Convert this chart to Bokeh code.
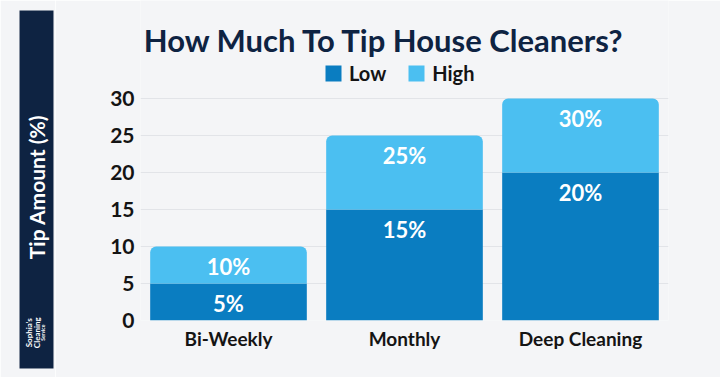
import math
from bokeh.plotting import figure
from bokeh.models import Range1d, Label, Legend, LegendItem, ColumnDataSource
from bokeh.layouts import row
from bokeh.embed import file_html
from bokeh.resources import INLINE
from bokeh.core.properties import value

# ---- data ----
categories = ["Bi-Weekly", "Monthly", "Deep Cleaning"]
low = [5, 15, 20]
high = [10, 25, 30]
low_labels = ["5%", "15%", "20%"]
high_labels = ["10%", "25%", "30%"]
y_ticks = [0, 5, 10, 15, 20, 25, 30]
series_names = ["Low", "High"]
title_text = "How Much To Tip House Cleaners?"
y_label = "Tip Amount (%)"

# ---- style ----
BG = "#f4f5f7"
NAVY = "#0e2342"
LOW_C = "#0a7dc1"
HIGH_C = "#4bbff1"
DARK = "#141414"
FONT = "Lato"

# layout: frame spans the full height above the x axis; value 30 sits 222 px above the base
FRAME_H = 377 - 57
Y_TOP = max(y_ticks) * FRAME_H / 222.0

src = ColumnDataSource(dict(cat=categories, low=low, high=high,
                            low_lab=low_labels, high_lab=high_labels))

p = figure(x_range=categories, y_range=Range1d(0, Y_TOP), width=665, height=377,
           title=None, output_backend="svg", toolbar_location=None, frame_align=False,
           min_border_left=85, min_border_right=52, min_border_top=0, min_border_bottom=57,
           background_fill_color=BG, border_fill_color=BG, outline_line_color=None)

r_low = p.vbar(x="cat", top="low", bottom=0, width=0.89, source=src,
               fill_color=LOW_C, line_color=None)
r_high = p.vbar(x="cat", top="high", bottom="low", width=0.89, source=src,
                fill_color=HIGH_C, line_color=None, border_radius=(6, 6, 0, 0))

for col, lab in (("low", "low_lab"), ("high", "high_lab")):
    p.text(x="cat", y=col, text=lab, source=src, text_align="center",
           text_baseline="middle", y_offset=20, text_color="white",
           text_font=value(FONT), text_font_style="bold", text_font_size="22px")

p.axis.axis_line_color = None
p.axis.major_tick_line_color = None
p.axis.minor_tick_line_color = None
p.axis.major_label_text_font = FONT
p.axis.major_label_text_font_style = "bold"
p.axis.major_label_text_color = DARK
p.yaxis.ticker = y_ticks
p.yaxis.major_tick_out = 0
p.yaxis.major_tick_in = 0
p.yaxis.major_label_text_font_size = "21px"
p.yaxis.major_label_standoff = 6
p.xaxis.major_label_text_font_size = "19px"
p.xaxis.major_label_standoff = 0
p.xgrid.grid_line_color = None
p.ygrid.grid_line_color = "#e2e4e8"

p.add_layout(Label(x=244, y=FRAME_H - 39, x_units="screen", y_units="screen", text=title_text,
                   text_align="center", text_baseline="middle", text_font=FONT,
                   text_font_style="bold", text_font_size="31px", text_color=NAVY))

legend = Legend(items=[LegendItem(label=series_names[0], renderers=[r_low]),
                       LegendItem(label=series_names[1], renderers=[r_high])],
                orientation="horizontal", location=(183, FRAME_H - 85),
                glyph_width=20, glyph_height=20, label_height=20, label_standoff=6,
                spacing=20, padding=0, margin=0, border_line_color=None,
                background_fill_alpha=0, label_text_font=FONT,
                label_text_font_style="bold", label_text_font_size="20px",
                label_text_color=DARK, label_text_baseline="middle")
p.add_layout(legend)

# left navy band
lf = figure(width=55, height=377, x_range=Range1d(0, 1), y_range=Range1d(0, 1),
            title=None, output_backend="svg", toolbar_location=None, frame_align=False,
            x_axis_type=None, y_axis_type=None,
            min_border_left=19, min_border_right=2, min_border_top=10, min_border_bottom=9,
            background_fill_color=NAVY, border_fill_color=BG, outline_line_color=None)
lf.add_layout(Label(x=0.5, y=0.507, text=y_label, angle=math.pi / 2,
                    text_align="center", text_baseline="middle", text_font=FONT,
                    text_font_style="bold", text_font_size="21px", text_color="white"))
for xx, t, fs in ((0.28, "Sophia's", "8px"), (0.5, "Cleaning", "8px"), (0.7, "Service", "5px")):
    lf.add_layout(Label(x=xx, y=0.1, text=t, angle=math.pi / 2,
                        text_align="center", text_baseline="middle", text_font=FONT,
                        text_font_style="bold", text_font_size=fs, text_color="white"))

layout = row(lf, p)
open("out.html", "w").write(file_html(layout, INLINE))
